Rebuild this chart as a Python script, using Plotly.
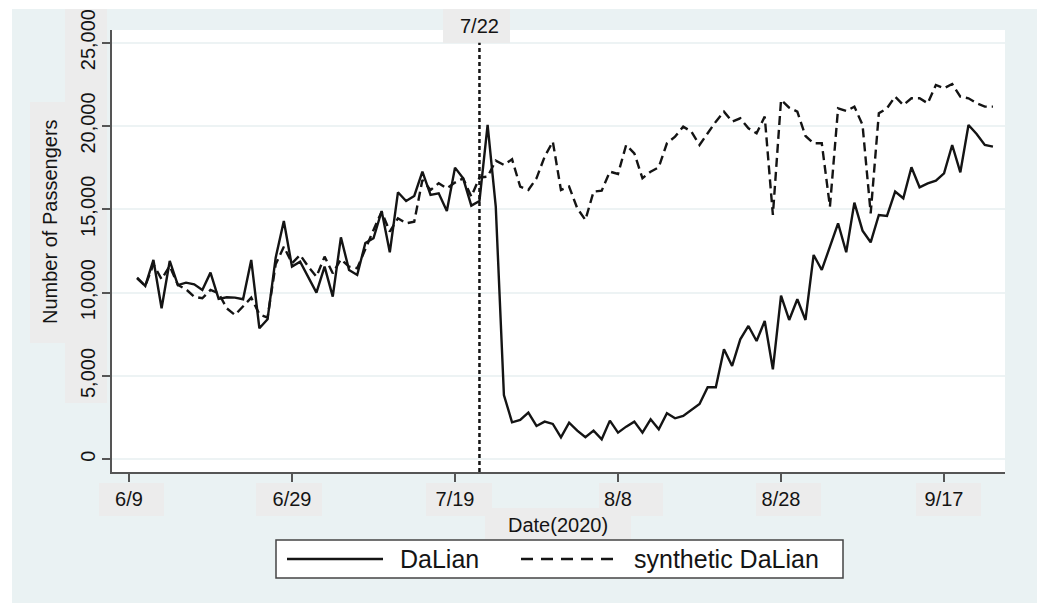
import plotly.graph_objects as go
import pandas as pd

# ---------------- data ----------------
start_date = "2020-06-10"
dalian = [10900, 10400, 11960, 9060, 11900, 10450, 10600, 10500, 10160, 11200,
          9620, 9720, 9700, 9600, 11960, 7860, 8400, 12100, 14300, 11560,
          11860, 10960, 10000, 11560, 9760, 13320, 11360, 11060, 12980, 13260,
          14900, 12420, 16020, 15500, 15800, 17260, 15860, 15960, 14900, 17500,
          16860, 15220, 15500, 20060, 15160, 3860, 2220, 2360, 2800, 2000,
          2260, 2120, 1320, 2200, 1720, 1320, 1720, 1200, 2320, 1600,
          1960, 2260, 1600, 2400, 1800, 2760, 2460, 2600, 2960, 3320,
          4320, 4320, 6600, 5600, 7200, 8000, 7100, 8300, 5400, 9820,
          8360, 9600, 8360, 12260, 11360, 12760, 14160, 12420, 15400, 13720,
          13020, 14660, 14600, 16060, 15660, 17520, 16320, 16560, 16720, 17160,
          18860, 17220, 20060, 19520, 18860, 18760]
synthetic = [10860, 10400, 11700, 10800, 11600, 10460, 10200, 9760, 9660, 10160,
             9960, 9060, 8660, 9160, 9700, 8700, 8500, 11700, 12760, 11760,
             12260, 11560, 10960, 12160, 11160, 12000, 11560, 11460, 12660, 13760,
             14860, 13660, 14460, 14160, 14260, 16760, 16160, 16560, 16260, 16600,
             16860, 15760, 16900, 16960, 17920, 17660, 18000, 16360, 16160, 16860,
             18160, 19060, 16160, 16360, 15060, 14360, 16060, 16120, 17260, 17120,
             18860, 18360, 16860, 17260, 17520, 18960, 19360, 19960, 19660, 18860,
             19560, 20260, 20860, 20260, 20460, 19860, 19560, 20560, 14660, 21560,
             21100, 20860, 19400, 18960, 18960, 15160, 21060, 20900, 21160, 20060,
             14760, 20760, 21060, 21760, 21260, 21660, 21660, 21360, 22460, 22260,
             22520, 21760, 21660, 21360, 21160, 21160]
series_names = ["DaLian", "synthetic DaLian"]
xtick_dates = ["2020-06-09", "2020-06-29", "2020-07-19", "2020-08-08", "2020-08-28", "2020-09-17"]
xtick_labels = ["6/9", "6/29", "7/19", "8/8", "8/28", "9/17"]
ytick_vals = [0, 5000, 10000, 15000, 20000, 25000]
ytick_labels = ["0", "5,000", "10,000", "15,000", "20,000", "25,000"]
event_date = "2020-07-22"
event_label = "7/22"
x_title = "Date(2020)"
y_title = "Number of Passengers"

dates = pd.date_range(start_date, periods=len(dalian))

# ---------------- layout geometry (pixels) ----------------
W, H = 1037, 603
L, R, T, B = 112, 1005, 30, 472   # plot area edges in pixels


def px(x):
    return (x - L) / (R - L)


def py(y):
    return (B - y) / (B - T)


BG = "#eaf2f3"
BOX = "#ececec"
INK = "#141414"
AXIS = "#555555"
FONT = "Liberation Sans, Arial, Helvetica, sans-serif"

fig = go.Figure()
fig.add_trace(go.Scatter(x=dates, y=dalian, mode="lines", name=series_names[0],
                         line=dict(color=INK, width=2.4), showlegend=False))
fig.add_trace(go.Scatter(x=dates, y=synthetic, mode="lines", name=series_names[1],
                         line=dict(color=INK, width=2.4, dash="9px,5px"), showlegend=False))

shapes = []
# white margins at top and left of the picture
shapes.append(dict(type="rect", xref="paper", yref="paper", layer="below",
                   x0=px(0), x1=px(W), y0=py(9), y1=py(0), fillcolor="white", line_width=0))
shapes.append(dict(type="rect", xref="paper", yref="paper", layer="below",
                   x0=px(0), x1=px(12), y0=py(H), y1=py(0), fillcolor="white", line_width=0))
# grey label boxes
for (x0, y0, x1, y1) in [(99, 483, 164, 516), (256, 483, 322, 516), (426, 483, 492, 516),
                         (599, 483, 663, 516), (756, 483, 821, 516), (916, 483, 981, 516),
                         (485, 508, 631, 540), (65, 9, 107, 403), (30, 102, 65, 343)]:
    shapes.append(dict(type="rect", xref="paper", yref="paper", layer="below",
                       x0=px(x0), x1=px(x1), y0=py(y1), y1=py(y0), fillcolor=BOX, line_width=0))
shapes.append(dict(type="rect", xref="paper", yref="paper", layer="above",
                   x0=px(443), x1=px(510), y0=py(43), y1=py(9), fillcolor=BOX, line_width=0))
# event line
shapes.append(dict(type="line", xref="x", yref="y", x0=event_date, x1=event_date,
                   y0=-762, y1=25000, line=dict(color=INK, width=2.5, dash="4px,3px")))
# legend box (drawn by hand so the line samples have the reference length)
shapes.append(dict(type="rect", xref="paper", yref="paper", layer="above",
                   x0=px(276), x1=px(843), y0=py(578), y1=py(540),
                   fillcolor="white", line=dict(color="#444444", width=1.5)))
shapes.append(dict(type="line", xref="paper", yref="paper",
                   x0=px(287), x1=px(383), y0=py(559), y1=py(559),
                   line=dict(color=INK, width=2.4)))
shapes.append(dict(type="line", xref="paper", yref="paper",
                   x0=px(521), x1=px(617), y0=py(559), y1=py(559),
                   line=dict(color=INK, width=2.4, dash="12px,8px")))

annotations = [
    dict(text=event_label, x=event_date, xref="x", y=py(26), yref="paper",
         xanchor="center", yanchor="middle",
         showarrow=False, font=dict(size=20, color=INK)),
    dict(text=x_title, x=px(558), xref="paper", y=py(525), yref="paper",
         xanchor="center", yanchor="middle",
         showarrow=False, font=dict(size=20, color=INK)),
    dict(text=y_title, x=px(50), xref="paper", y=py(222), yref="paper",
         xanchor="center", yanchor="middle",
         textangle=-90, showarrow=False, font=dict(size=20, color=INK)),
    dict(text=series_names[0], x=px(398), xref="paper", y=py(559), yref="paper",
         xanchor="left", yanchor="middle", showarrow=False, font=dict(size=25, color=INK)),
    dict(text=series_names[1], x=px(632), xref="paper", y=py(559), yref="paper",
         xanchor="left", yanchor="middle", showarrow=False, font=dict(size=25, color=INK)),
]

fig.update_layout(
    width=W, height=H,
    margin=dict(l=L, r=W - R, t=T, b=H - B, pad=0, autoexpand=False),
    paper_bgcolor=BG, plot_bgcolor="white",
    font=dict(family=FONT, size=20, color=INK),
    showlegend=False,
    shapes=shapes, annotations=annotations,
)
fig.update_xaxes(
    type="date", range=["2020-06-06 22:00", "2020-09-24 11:30"],
    tickvals=xtick_dates, ticktext=xtick_labels,
    ticks="outside", ticklen=8, tickwidth=1.5, tickcolor=AXIS,
    showline=True, linecolor=AXIS, linewidth=1.5,
    showgrid=False, zeroline=False, ticklabelstandoff=0,
    tickfont=dict(size=20, color=INK), automargin=False,
)
fig.update_yaxes(
    range=[-762, 25758],
    tickvals=ytick_vals, ticktext=ytick_labels, tickangle=-90,
    ticks="outside", ticklen=8, tickwidth=1.5, tickcolor=AXIS,
    showline=True, linecolor=AXIS, linewidth=1.5,
    showgrid=True, gridcolor="#edf3f4", gridwidth=1.5, zeroline=False,
    ticklabelstandoff=-1,
    tickfont=dict(size=20, color=INK), automargin=False,
)

fig.write_html("out.html", config={"displayModeBar": False},
               post_script="document.body.style.margin='0';")
